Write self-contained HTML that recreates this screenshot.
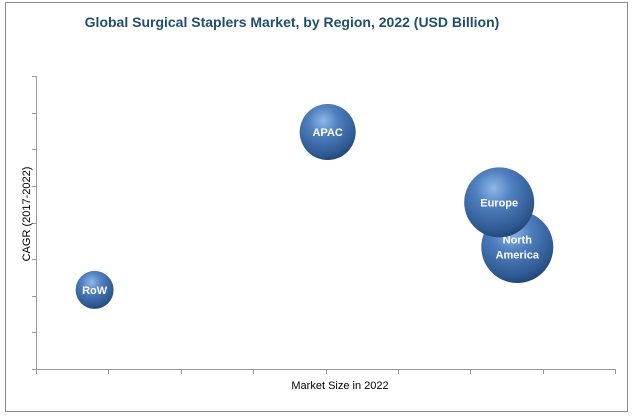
<!DOCTYPE html>
<html><head><meta charset="utf-8"><style>
body{margin:0;background:#fff;font-family:"Liberation Sans",sans-serif}
svg{display:block}
</style></head><body>
<svg width="635" height="416" viewBox="0 0 635 416">
<defs>
<radialGradient id="g" cx="0.42" cy="0.3" r="0.75">
<stop offset="0" stop-color="#8fb8e8"/>
<stop offset="0.35" stop-color="#4f7fbf"/>
<stop offset="0.8" stop-color="#2f5a93"/>
<stop offset="1" stop-color="#1f3f6b"/>
</radialGradient>
</defs>
<rect x="5.5" y="2.5" width="622" height="409" fill="#fff" stroke="#8c8c8c"/>
<text x="292" y="27" text-anchor="middle" font-size="14" font-weight="bold" fill="#1f4e6f">Global Surgical Staplers Market, by Region, 2022 (USD Billion)</text>
<g id="axes" stroke="#999" stroke-width="1"></g>
<text x="340" y="389" text-anchor="middle" font-size="11" fill="#000">Market Size in 2022</text>
<text transform="translate(30,214) rotate(-90)" text-anchor="middle" font-size="11" fill="#000">CAGR (2017-2022)</text>
<g id="bubbles"></g>
</svg>
<script>
const regions=["RoW","APAC","North America","Europe"];
const marketSize=[0.81,4.03,6.65,6.4];
const cagr=[2.16,6.47,3.33,4.55];
const bubbleSize=[19,28,36,35];
const NS="http://www.w3.org/2000/svg";
const X0=36,X1=615,Y0=369,Y1=76,XMAX=8,YMAX=8;
const sx=v=>X0+(X1-X0)*v/XMAX, sy=v=>Y0-(Y0-Y1)*v/YMAX;
const axes=document.getElementById('axes');
function line(x1,y1,x2,y2,name){const l=document.createElementNS(NS,'line');
l.setAttribute('x1',x1);l.setAttribute('y1',y1);l.setAttribute('x2',x2);l.setAttribute('y2',y2);


axes.appendChild(l);}
line(X0+.5,Y1,X0+.5,Y0+.5,'y-axis');
line(X0,Y0+.5,X1,Y0+.5,'x-axis');
for(let i=0;i<=YMAX;i++){const y=Math.round(sy(i))+.5;line(X0-4,y,X0,y,'y-tick');}
for(let i=0;i<=XMAX;i++){const x=Math.round(sx(i))+.5;line(x,Y0,x,Y0+5,'x-tick');}
const bg=document.getElementById('bubbles');
regions.forEach((r,i)=>{
const g=document.createElementNS(NS,'g');


const cx=sx(marketSize[i]),cy=sy(cagr[i]);
const c=document.createElementNS(NS,'circle');
c.setAttribute('cx',cx);c.setAttribute('cy',cy);c.setAttribute('r',bubbleSize[i]);c.setAttribute('fill','url(#g)');
g.appendChild(c);
const words=r.split(' ');
words.forEach((w,j)=>{const t=document.createElementNS(NS,'text');
t.setAttribute('x',cx);t.setAttribute('y',cy+4+(j-(words.length-1)/2)*15);
t.setAttribute('text-anchor','middle');t.setAttribute('font-size','11');t.setAttribute('font-weight','bold');t.setAttribute('fill','#fff');


t.textContent=w;g.appendChild(t);});
bg.appendChild(g);});
</script>
</body></html>
